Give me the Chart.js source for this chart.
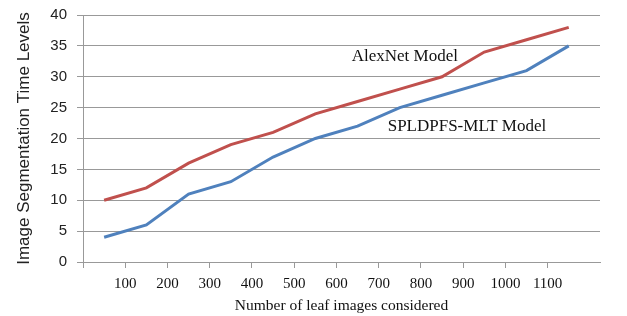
<!DOCTYPE html>
<html>
<head>
<meta charset="utf-8">
<script src="https://cdn.jsdelivr.net/npm/chart.js@4"></script>
<style>
  html, body { margin: 0; padding: 0; background: #fff; }
  #wrap { width: 627px; height: 316px; }
</style>
</head>
<body>
<div id="wrap"><canvas id="chart" width="627" height="316"></canvas></div>
<script>
const leafImages = [50, 150, 250, 350, 450, 550, 650, 750, 850, 950, 1050, 1150];
const alexNet = [10, 12, 16, 19, 21, 24, 26, 28, 30, 34, 36, 38];
const spldpfs = [4, 6, 11, 13, 17, 20, 22, 25, 27, 29, 31, 35];
const seriesNames = ["AlexNet Model", "SPLDPFS-MLT Model"];
// label anchors in data units (x, y)
const labelSpots = [[762, 33.2], [909, 21.9]];

const toPoints = (vals) => vals.map((v, i) => ({ x: leafImages[i], y: v }));

const seriesLabels = {
  id: "seriesLabels",
  afterDatasetsDraw(chart) {
    const ctx = chart.ctx;
    const xs = chart.scales.x;
    const ys = chart.scales.y;
    ctx.save();
    ctx.font = '17px "Liberation Serif", "Times New Roman", serif';
    ctx.fillStyle = "#111";
    ctx.textAlign = "center";
    ctx.textBaseline = "middle";
    seriesNames.forEach((name, i) => {
      ctx.fillText(name, xs.getPixelForValue(labelSpots[i][0]), ys.getPixelForValue(labelSpots[i][1]));
    });
    ctx.restore();
  },
};

new Chart(document.getElementById("chart"), {
  type: "line",
  data: {
    datasets: [
      {
        label: seriesNames[0],
        data: toPoints(alexNet),
        borderColor: "#c0504d",
        borderWidth: 3,
        pointRadius: 0,
        tension: 0,
      },
      {
        label: seriesNames[1],
        data: toPoints(spldpfs),
        borderColor: "#4f81bd",
        borderWidth: 3,
        pointRadius: 0,
        tension: 0,
      },
    ],
  },
  options: {
    responsive: false,
    animation: false,
    layout: { padding: { top: 15, right: 27, left: 0, bottom: 0 } },
    plugins: { legend: { display: false }, tooltip: { enabled: false } },
    scales: {
      x: {
        type: "linear",
        min: 0,
        max: 1224,
        afterBuildTicks: (scale) => {
          scale.ticks = scale.ticks.filter((t) => t.value % 100 === 0);
        },
        ticks: {
          stepSize: 100,
          maxRotation: 0,
          autoSkip: false,
          padding: 7,
          color: "#111",
          font: { family: '"Liberation Serif", serif', size: 15 },
          callback: (v) => (v === 0 ? "" : v),
        },
        grid: { drawOnChartArea: false, drawTicks: true, tickLength: 6, color: "#999", lineWidth: 1 },
        border: { color: "#999", width: 1 },
        title: {
          display: true,
          text: "Number of leaf images considered",
          color: "#111",
          font: { family: '"Liberation Serif", serif', size: 15.5 },
          padding: { top: 0, bottom: 1 },
        },
        afterFit: (scale) => {
          scale.height = 54;
          scale.paddingLeft = 0;
          scale.paddingRight = 0;
        },
      },
      y: {
        min: 0,
        max: 40,
        ticks: {
          stepSize: 5,
          padding: 10,
          color: "#222",
          font: { family: '"Liberation Sans", sans-serif', size: 15 },
        },
        grid: { color: "#999", lineWidth: 1, tickLength: 6 },
        border: { color: "#999", width: 1 },
        title: {
          display: true,
          text: "Image Segmentation Time Levels",
          color: "#222",
          font: { family: '"Liberation Sans", sans-serif', size: 17 },
          padding: { top: 14, bottom: 0 },
        },
        afterFit: (scale) => {
          scale.width = 83;
          scale.paddingTop = 0;
          scale.paddingBottom = 0;
        },
      },
    },
  },
  plugins: [seriesLabels],
});
</script>
</body>
</html>
